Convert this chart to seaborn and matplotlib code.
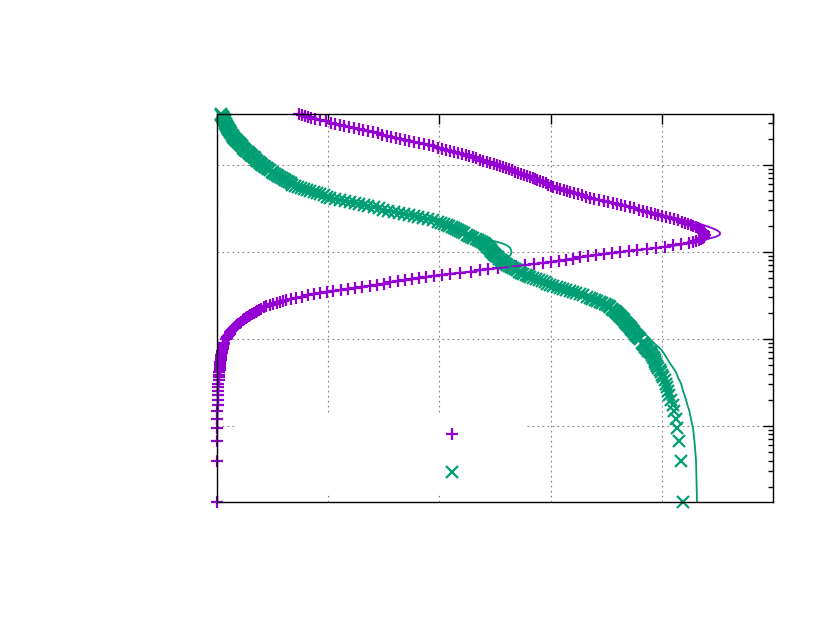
import numpy as np
import matplotlib
matplotlib.use("Agg")
import matplotlib.pyplot as plt
import seaborn as sns
from matplotlib.ticker import LogLocator, MultipleLocator, NullLocator

# --------------------------------------------------
# Data (y = depth, log scale)
# --------------------------------------------------

# depths of the plotted points (dense sampling)
DEPTH = [
    0.3855,
    0.3758, 0.3652, 0.3548, 0.3447, 0.3350, 0.3255, 0.3162, 0.3073, 0.2985, 0.2901,
    0.2818, 0.2738, 0.2661, 0.2585, 0.2512, 0.2441, 0.2371, 0.2304, 0.2239, 0.2175,
    0.2113, 0.2054, 0.1995, 0.1939, 0.1884, 0.1830, 0.1778, 0.1728, 0.1679, 0.1631,
    0.1585, 0.1540, 0.1496, 0.1454, 0.1413, 0.1372, 0.1334, 0.1296, 0.1259, 0.1223,
    0.1189, 0.1155, 0.1122, 0.1090, 0.1059, 0.1029,
    0.1000, 0.09716, 0.09441, 0.09173, 0.08913, 0.08660, 0.08414, 0.08175, 0.07943, 0.07718,
    0.07499, 0.07286, 0.07079, 0.06879, 0.06683, 0.06494, 0.06310, 0.06131, 0.05957, 0.05788,
    0.05623, 0.05464, 0.05309, 0.05158, 0.05012, 0.04870, 0.04732, 0.04597, 0.04467, 0.04340,
    0.04217, 0.04097, 0.03981, 0.03868, 0.03758, 0.03652, 0.03548, 0.03447, 0.03350, 0.03255,
    0.03162, 0.03073, 0.02985, 0.02901, 0.02818, 0.02738, 0.02661, 0.02585, 0.02512, 0.02441,
    0.02371, 0.02304, 0.02239, 0.02175, 0.02113, 0.02054, 0.01995, 0.01939, 0.01884, 0.01830,
    0.01778, 0.01728, 0.01679, 0.01631, 0.01585, 0.01540, 0.01496, 0.01454, 0.01413, 0.01372,
    0.01334, 0.01296, 0.01259, 0.01223, 0.01189, 0.01155, 0.01122, 0.01090, 0.01059, 0.01029,
    0.01000, 0.009716, 0.009441, 0.009173, 0.008913, 0.008660, 0.008414, 0.008175, 0.007943, 0.007718,
    0.007499, 0.007286, 0.007079, 0.006879, 0.006683, 0.006494, 0.006310, 0.006131, 0.005957, 0.005788,
    0.005623, 0.005464, 0.005309, 0.005158, 0.005012, 0.004870, 0.004732, 0.004597, 0.004467, 0.004340,
    0.004217, 0.004097, 0.003981, 0.003868, 0.003758, 0.003652, 0.003548, 0.003447, 0.003350, 0.003255,
    0.003162, 0.003073, 0.002985, 0.002901, 0.002818, 0.002738, 0.002661, 0.002585, 0.002512, 0.002441,
    0.002371, 0.002304, 0.002239, 0.002175, 0.002113, 0.002054, 0.001995, 0.001939, 0.001884, 0.001830,
    0.001778, 0.001728, 0.001679, 0.001631, 0.001585, 0.001540, 0.001496, 0.001454, 0.001413, 0.001372,
    0.001334, 0.001296, 0.001259, 0.001223, 0.001189, 0.001155, 0.001122, 0.001090, 0.001059, 0.001029,
    0.001000,
    8.951e-4, 8.684e-4, 8.417e-4, 8.150e-4, 7.882e-4, 7.615e-4, 7.348e-4, 7.081e-4,
    6.814e-4, 6.546e-4, 6.279e-4, 6.012e-4, 5.745e-4, 5.478e-4, 5.210e-4, 4.943e-4,
    4.676e-4, 4.409e-4, 4.142e-4, 3.874e-4, 3.607e-4, 3.340e-4, 3.073e-4, 2.806e-4,
    2.538e-4, 2.271e-4, 2.004e-4, 1.737e-4, 1.470e-4, 1.202e-4, 9.352e-5, 6.680e-5,
    4.008e-5, 1.336e-5,
]

PURPLE_PTS = [
    0.737,
    0.764, 0.791, 0.818, 0.850, 0.881, 0.931, 0.980, 1.021, 1.061, 1.102,
    1.142, 1.187, 1.232, 1.273, 1.313, 1.358, 1.403, 1.444, 1.484, 1.525,
    1.565, 1.606, 1.646, 1.687, 1.727, 1.772, 1.817, 1.862, 1.906, 1.947,
    1.987, 2.023, 2.059, 2.095, 2.131, 2.167, 2.203, 2.235, 2.266, 2.298,
    2.329, 2.361, 2.392, 2.424, 2.455, 2.487, 2.518, 2.545, 2.572, 2.599,
    2.626, 2.653, 2.680, 2.707, 2.734, 2.761, 2.788, 2.815, 2.842, 2.860,
    2.878, 2.905, 2.932, 2.955, 2.977, 3.000, 3.022, 3.054, 3.085, 3.117,
    3.148, 3.179, 3.210, 3.246, 3.282, 3.318, 3.354, 3.395, 3.435, 3.476,
    3.516, 3.557, 3.597, 3.633, 3.669, 3.710, 3.750, 3.791, 3.831, 3.867,
    3.903, 3.935, 3.966, 4.002, 4.038, 4.074, 4.110, 4.146, 4.182, 4.209,
    4.236, 4.259, 4.281, 4.304, 4.326, 4.340, 4.353, 4.367, 4.380, 4.384,
    4.388, 4.384, 4.380, 4.367, 4.353, 4.331, 4.308, 4.277, 4.245, 4.173,
    4.101, 4.025, 3.948, 3.863, 3.777, 3.701, 3.624, 3.552, 3.480, 3.408,
    3.336, 3.269, 3.201, 3.139, 3.076, 3.004, 2.932, 2.851, 2.770, 2.689,
    2.608, 2.523, 2.437, 2.361, 2.284, 2.190, 2.095, 2.023, 1.951, 1.884,
    1.817, 1.754, 1.691, 1.624, 1.556, 1.498, 1.439, 1.372, 1.304, 1.241,
    1.178, 1.111, 1.043, 0.985, 0.926, 0.872, 0.818, 0.764, 0.710, 0.665,
    0.620, 0.594, 0.567, 0.536, 0.504, 0.473, 0.441, 0.419, 0.396, 0.378,
    0.360, 0.347, 0.333, 0.315, 0.297, 0.284, 0.270, 0.257, 0.243, 0.230,
    0.216, 0.203, 0.189, 0.180, 0.171, 0.162, 0.153, 0.144, 0.135, 0.126,
    0.117, 0.113, 0.108, 0.099, 0.090, 0.086, 0.081,
    0.062, 0.060, 0.058, 0.056, 0.053, 0.050, 0.048, 0.045,
    0.042, 0.040, 0.038, 0.036, 0.033, 0.031, 0.029, 0.027,
    0.025, 0.023, 0.021, 0.019, 0.017, 0.015, 0.013, 0.011,
    0.009, 0.008, 0.006, 0.005, 0.004, 0.003, 0.002, 0.0,
    0.0, 0.0,
]

GREEN_PTS = [
    0.036,
    0.040, 0.047, 0.054, 0.058, 0.063, 0.067, 0.072, 0.076, 0.081, 0.085,
    0.090, 0.094, 0.099, 0.103, 0.108, 0.114, 0.121, 0.128, 0.135, 0.141,
    0.148, 0.155, 0.162, 0.171, 0.180, 0.189, 0.198, 0.207, 0.216, 0.225,
    0.234, 0.243, 0.252, 0.265, 0.279, 0.288, 0.297, 0.308, 0.319, 0.330,
    0.342, 0.353, 0.364, 0.375, 0.387, 0.398, 0.409, 0.422, 0.436, 0.449,
    0.463, 0.479, 0.495, 0.508, 0.522, 0.537, 0.553, 0.569, 0.585, 0.600,
    0.616, 0.631, 0.647, 0.663, 0.679, 0.703, 0.728, 0.755, 0.782, 0.811,
    0.841, 0.870, 0.899, 0.928, 0.958, 0.987, 1.016, 1.059, 1.102, 1.149,
    1.196, 1.238, 1.281, 1.321, 1.362, 1.409, 1.457, 1.497, 1.538, 1.589,
    1.641, 1.684, 1.727, 1.769, 1.812, 1.854, 1.897, 1.942, 1.987, 2.016,
    2.046, 2.068, 2.091, 2.111, 2.131, 2.151, 2.172, 2.187, 2.203, 2.223,
    2.244, 2.264, 2.284, 2.306, 2.329, 2.347, 2.365, 2.381, 2.397, 2.408,
    2.419, 2.430, 2.442, 2.451, 2.460, 2.466, 2.473, 2.482, 2.491, 2.500,
    2.509, 2.524, 2.540, 2.551, 2.563, 2.574, 2.585, 2.596, 2.608, 2.626,
    2.644, 2.662, 2.680, 2.700, 2.720, 2.738, 2.756, 2.776, 2.797, 2.819,
    2.842, 2.869, 2.896, 2.923, 2.950, 2.972, 2.995, 3.026, 3.058, 3.085,
    3.112, 3.143, 3.174, 3.201, 3.228, 3.262, 3.296, 3.325, 3.354, 3.376,
    3.399, 3.421, 3.444, 3.466, 3.489, 3.505, 3.521, 3.536, 3.552, 3.563,
    3.575, 3.584, 3.593, 3.604, 3.615, 3.624, 3.633, 3.640, 3.647, 3.656,
    3.665, 3.674, 3.683, 3.694, 3.705, 3.712, 3.719, 3.725, 3.732, 3.739,
    3.746, 3.755, 3.764, 3.773, 3.782, 3.791, 3.800,
    3.820, 3.830, 3.840, 3.850, 3.860, 3.870, 3.880, 3.890,
    3.900, 3.910, 3.920, 3.930, 3.935, 3.940, 3.950, 3.960,
    3.970, 3.980, 3.990, 4.000, 4.013, 4.025, 4.035, 4.047,
    4.055, 4.066, 4.085, 4.097, 4.110, 4.127, 4.137, 4.155,
    4.173, 4.190,
]

# depths of the model curves (coarser sampling)
DEPTH_LINE = [
    0.3855,
    0.3758, 0.3548, 0.3350, 0.3162, 0.2985, 0.2818, 0.2661, 0.2512, 0.2371, 0.2239,
    0.2113, 0.1995, 0.1884, 0.1778, 0.1679, 0.1585, 0.1496, 0.1413, 0.1334, 0.1259,
    0.1189, 0.1122, 0.1059, 0.1000, 0.09441, 0.08913, 0.08414, 0.07943, 0.07499, 0.07079,
    0.06683, 0.06310, 0.05957, 0.05623, 0.05309, 0.05012, 0.04732, 0.04467, 0.04217, 0.03981,
    0.03758, 0.03548, 0.03350, 0.03162, 0.02985, 0.02818, 0.02661, 0.02512, 0.02371, 0.02239,
    0.02113, 0.01995, 0.01884, 0.01778, 0.01679, 0.01585, 0.01496, 0.01413, 0.01334, 0.01259,
    0.01189, 0.01122, 0.01059, 0.01000, 0.009441, 0.008913, 0.008414, 0.007943, 0.007499, 0.007079,
    0.006683, 0.006310, 0.005957, 0.005623, 0.005309, 0.005012, 0.004732, 0.004467, 0.004217, 0.003981,
    0.003758, 0.003548, 0.003350, 0.003162, 0.002985, 0.002818, 0.002661, 0.002512, 0.002371, 0.002239,
    0.002113, 0.001995, 0.001884, 0.001778, 0.001679, 0.001585, 0.001496, 0.001413, 0.001334, 0.001259,
    0.001189, 0.001122, 0.001059, 0.001000,
    8.951e-4, 7.615e-4, 6.546e-4, 5.478e-4, 4.676e-4, 4.142e-4, 3.874e-4, 3.607e-4,
    3.340e-4, 3.073e-4, 2.806e-4, 2.538e-4, 2.271e-4, 2.004e-4, 1.737e-4, 1.470e-4,
    1.202e-4, 9.352e-5, 6.680e-5, 4.008e-5, 1.336e-5,
]

PURPLE_LINE = [
    0.737,
    0.764, 0.818, 0.881, 0.980, 1.061, 1.142, 1.232, 1.313, 1.403, 1.484,
    1.565, 1.646, 1.727, 1.817, 1.906, 1.987, 2.059, 2.131, 2.203, 2.266,
    2.329, 2.392, 2.455, 2.518, 2.572, 2.626, 2.680, 2.734, 2.788, 2.842,
    2.878, 2.932, 2.977, 3.022, 3.085, 3.148, 3.210, 3.282, 3.354, 3.435,
    3.516, 3.597, 3.669, 3.750, 3.831, 3.912, 3.993, 4.083, 4.173, 4.263,
    4.335, 4.398, 4.451, 4.496, 4.523, 4.523, 4.487, 4.416, 4.335, 4.254,
    4.128, 3.966, 3.795, 3.624, 3.480, 3.336, 3.201, 3.076, 2.932, 2.770,
    2.608, 2.437, 2.284, 2.095, 1.951, 1.817, 1.691, 1.556, 1.439, 1.304,
    1.178, 1.043, 0.926, 0.818, 0.710, 0.620, 0.567, 0.504, 0.441, 0.396,
    0.360, 0.333, 0.297, 0.270, 0.243, 0.216, 0.189, 0.171, 0.153, 0.135,
    0.117, 0.108, 0.090, 0.081,
    0.062, 0.050, 0.040, 0.031, 0.025, 0.021, 0.019, 0.017,
    0.015, 0.013, 0.011, 0.009, 0.008, 0.006, 0.005, 0.004,
    0.003, 0.002, 0.0, 0.0, 0.0,
]

GREEN_LINE = [
    0.036,
    0.040, 0.054, 0.063, 0.072, 0.081, 0.090, 0.099, 0.108, 0.121, 0.135,
    0.148, 0.162, 0.180, 0.198, 0.216, 0.234, 0.252, 0.279, 0.297, 0.319,
    0.342, 0.364, 0.387, 0.409, 0.436, 0.463, 0.495, 0.522, 0.553, 0.585,
    0.616, 0.647, 0.679, 0.728, 0.782, 0.841, 0.899, 0.958, 1.016, 1.102,
    1.196, 1.281, 1.362, 1.457, 1.538, 1.641, 1.727, 1.812, 1.897, 1.987,
    2.046, 2.091, 2.131, 2.172, 2.203, 2.244, 2.311, 2.401, 2.491, 2.563,
    2.608, 2.635, 2.644, 2.649, 2.644, 2.630, 2.617, 2.599, 2.590, 2.608,
    2.644, 2.680, 2.720, 2.756, 2.797, 2.842, 2.896, 2.950, 2.995, 3.058,
    3.112, 3.174, 3.228, 3.296, 3.354, 3.399, 3.444, 3.489, 3.525, 3.561,
    3.593, 3.624, 3.651, 3.678, 3.701, 3.723, 3.746, 3.768, 3.790, 3.813,
    3.831, 3.853, 3.876, 3.894,
    3.930, 3.993, 4.029, 4.065, 4.101, 4.128, 4.137, 4.146,
    4.159, 4.173, 4.182, 4.191, 4.204, 4.218, 4.231, 4.249,
    4.263, 4.281, 4.294, 4.308, 4.317,
]

X_RANGE = (0, 5)
Y_RANGE = (1.3366e-5, 0.3855)

PURPLE = "#9400d3"
GREEN = "#009e73"

sns.set_theme(style="white", rc={
    "axes.edgecolor": "black",
    "axes.linewidth": 1.0,
    "xtick.color": "black",
    "ytick.color": "black",
})

fig = plt.figure(figsize=(8.4, 6.25), dpi=100)
ax = fig.add_axes([0.2583, 0.1968, 0.6619, 0.6208])
ax.set_yscale("log")

# points first, model curves on top
sns.lineplot(x=PURPLE_PTS, y=DEPTH, sort=False, estimator=None, ax=ax,
             color=PURPLE, marker="+", linestyle="", markersize=9,
             markeredgewidth=1.6, markeredgecolor=PURPLE, clip_on=False)
sns.lineplot(x=GREEN_PTS, y=DEPTH, sort=False, estimator=None, ax=ax,
             color=GREEN, marker="x", linestyle="", markersize=8.5,
             markeredgewidth=1.6, markeredgecolor=GREEN, clip_on=False)
sns.lineplot(x=PURPLE_LINE, y=DEPTH_LINE, sort=False, estimator=None, ax=ax,
             color=PURPLE, linewidth=1.3)
sns.lineplot(x=GREEN_LINE, y=DEPTH_LINE, sort=False, estimator=None, ax=ax,
             color=GREEN, linewidth=1.3)

ax.set_xlim(*X_RANGE)
ax.set_ylim(*Y_RANGE)
ax.set_xlabel("")
ax.set_ylabel("")

ax.xaxis.set_major_locator(MultipleLocator(1))
ax.xaxis.set_minor_locator(NullLocator())
ax.yaxis.set_major_locator(LogLocator(base=10, numticks=20))
ax.yaxis.set_minor_locator(LogLocator(base=10, subs=np.arange(2, 10), numticks=20))

ax.tick_params(which="both", direction="in", top=True, right=True,
               labelbottom=False, labelleft=False, width=1.0)
ax.tick_params(which="major", length=7)
ax.tick_params(which="minor", length=3.5)

ax.set_axisbelow(True)
ax.grid(True, which="major", color="#808080", linestyle=(0, (1.5, 3)),
        linewidth=0.8)

# key with blank titles, sample marks on the right
handles = [ax.lines[0], ax.lines[1]]
ax.legend(handles, [" " * 24, " " * 24],
          loc="upper left", bbox_to_anchor=(0.036, 0.224),
          borderaxespad=0, frameon=True, facecolor="white",
          edgecolor="none", framealpha=1, fancybox=False,
          markerfirst=False, handlelength=7.8, handletextpad=0.8,
          borderpad=0.62, labelspacing=1.25, fontsize=12)

fig.savefig("out.png", dpi=100)
